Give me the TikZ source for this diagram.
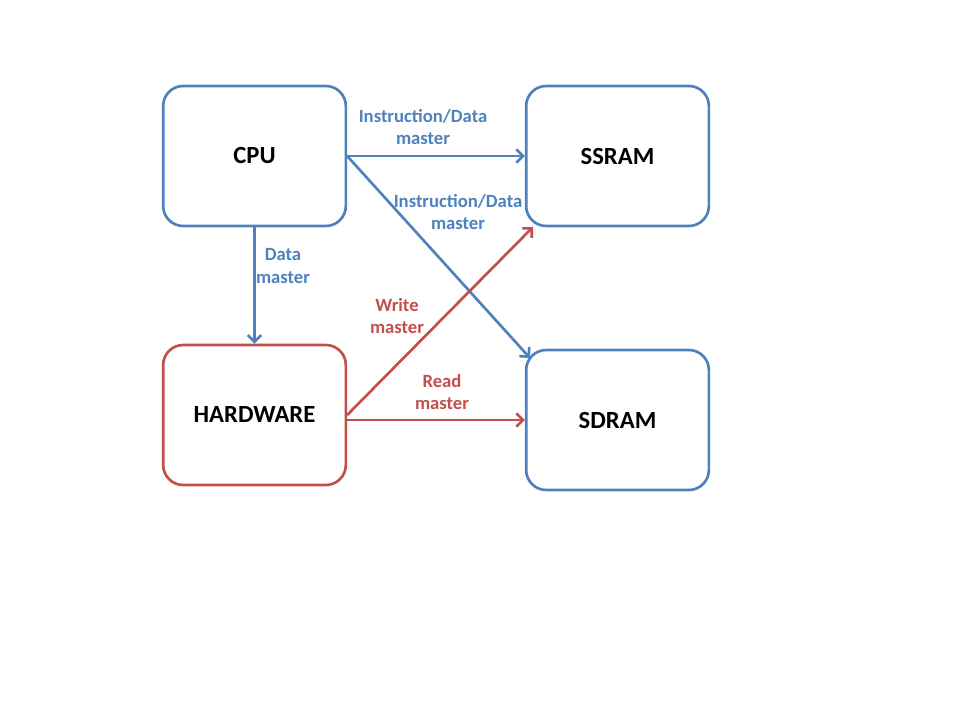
\documentclass[tikz,border=0pt]{standalone}
\usepackage{fontspec}
\setmainfont{Carlito}
\usetikzlibrary{arrows.meta}
\definecolor{ublue}{HTML}{4F81BD}
\definecolor{ured}{HTML}{C0504D}
\begin{document}
\begin{tikzpicture}[x=0.75pt,y=-0.75pt,
	blk/.style={draw,line width=2pt,rounded corners=15pt,minimum width=137pt,minimum height=105pt,text=black,font=\bfseries\fontsize{18.5}{20}\selectfont,inner sep=0pt},
	lbl/.style={align=center,font=\bfseries\fontsize{14}{17}\selectfont},
	arr/.style={line width=2pt,-{Straight Barb[length=5pt,width=10pt]}}]
		\useasboundingbox (0,0) rectangle (960,720);
		% boxes
		\node[blk,draw=ublue] (cpu) at (254.5,156) {CPU};
		\node[blk,draw=ublue] (ssram) at (617.5,156) {SSRAM};
		\node[blk,draw=ured] (hw) at (254.5,415) {HARDWARE};
		\node[blk,draw=ublue] (sdram) at (617.5,420) {SDRAM};
		\coordinate (sdtl) at (530,358);
		\coordinate (sstl) at (533,227);
		% blue connectors
		\draw[arr,ublue] (cpu.east) -- (ssram.west);
		\draw[arr,ublue] (cpu.east) -- (sdtl);
		\draw[arr,ublue] (cpu.south) -- (hw.north);
		% red connectors
		\draw[arr,ured] (hw.east) -- (sstl);
		\draw[arr,ured] (hw.east |- sdram.west) -- (sdram.west);
		% labels
		\node[lbl,ublue] (l1) at (423,127) {Instruction/Data\\master};
		\node[lbl,ublue] (l2) at (458,212) {Instruction/Data\\master};
		\node[lbl,ublue] (l3) at (283,266) {Data\\master};
		\node[lbl,ured] (l4) at (397,316) {Write\\master};
		\node[lbl,ured] (l5) at (442,392) {Read\\master};
	\end{tikzpicture}
\end{document}
